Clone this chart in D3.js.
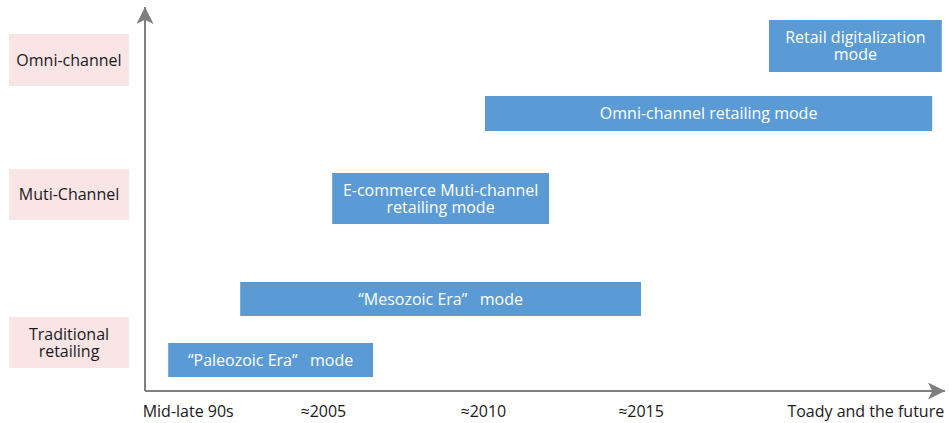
<!DOCTYPE html>
<html>
<head>
<meta charset="utf-8">
<script src="https://cdn.jsdelivr.net/npm/d3@7"></script>
<style>
  body { margin: 0; background: #fff; }
  svg text { font-family: "Open Sans", "Noto Sans", sans-serif; }
</style>
</head>
<body>
<svg id="chart" width="949" height="423"></svg>
<script>
// timeline ticks (position along the time axis, 0-100)
var tickLabels = ['Mid-late 90s', '\u22482005', '\u22482010', '\u22482015', 'Toady and the future'];
var tickValues = [5.4, 22.3, 42.3, 62, 90.1];

// stages of retailing (rows on the left)
var categories = ['Omni-channel', 'Muti-Channel', 'Traditional\nretailing'];
var categoryLow = [305, 171, 23];
var categoryHigh = [357, 222, 74];

// retail modes: start / end on the time axis, low / high on the stage axis
var modeNames = ['\u201cPaleozoic Era\u201d   mode', '\u201cMesozoic Era\u201d   mode',
  'E-commerce Muti-channel\nretailing mode', 'Omni-channel retailing mode',
  'Retail digitalization\nmode'];
var modeStart = [2.9, 11.9, 23.4, 42.5, 78];
var modeEnd = [28.5, 62, 50.5, 98.4, 99.6];
var modeLow = [14, 75, 167, 260, 319];
var modeHigh = [48, 109, 218, 295, 371];

var svg = d3.select('#chart');

var x = d3.scaleLinear().domain([0, 100]).range([145, 945]);
var y = d3.scaleLinear().domain([0, 384]).range([391, 7]);

var axisColor = '#7f7f7f',
  fontSize = '16px';

// category boxes
var cat = svg.append('g').selectAll('g')
  .data(categories)
  .join('g');

cat.append('rect')
  .attr('x', 9)
  .attr('width', 120)
  .attr('y', (d, i) => y(categoryHigh[i]))
  .attr('height', (d, i) => y(categoryLow[i]) - y(categoryHigh[i]))
  .style('fill', '#f9e4e6');

cat.each(function(d, i){
  var lines = d.split('\n'),
    cy = (y(categoryLow[i]) + y(categoryHigh[i])) / 2;
  d3.select(this).append('text')
    .attr('x', 69)
    .attr('y', cy - (lines.length - 1) * 8.5 + 5.5)
    .style('text-anchor', 'middle')
    .style('font-size', fontSize)
    .style('fill', '#1a1a1a')
    .selectAll('tspan')
    .data(lines)
    .join('tspan')
      .attr('x', 69)
      .attr('dy', (l, j) => j ? 17 : 0)
      .text(l => l);
});

// mode bars
var bars = svg.append('g').selectAll('g')
  .data(modeNames)
  .join('g');

bars.append('rect')
  .attr('x', (d, i) => x(modeStart[i]))
  .attr('width', (d, i) => x(modeEnd[i]) - x(modeStart[i]))
  .attr('y', (d, i) => y(modeHigh[i]))
  .attr('height', (d, i) => y(modeLow[i]) - y(modeHigh[i]))
  .style('fill', '#5b9bd5');

bars.each(function(d, i){
  var lines = d.split('\n'),
    cx = (x(modeStart[i]) + x(modeEnd[i])) / 2,
    cy = (y(modeLow[i]) + y(modeHigh[i])) / 2;
  d3.select(this).append('text')
    .attr('x', cx)
    .attr('y', cy - (lines.length - 1) * 8.5 + 5.5)
    .style('text-anchor', 'middle')
    .style('font-size', fontSize)
    .style('fill', '#fff')
    .style('white-space', 'pre')
    .selectAll('tspan')
    .data(lines)
    .join('tspan')
      .attr('x', cx)
      .attr('dy', (l, j) => j ? 17 : 0)
      .text(l => l);
});

// axes with arrows
svg.append('defs').append('marker')
  .attr('id', 'arrow')
  .attr('viewBox', '0 0 10 10')
  .attr('refX', 10)
  .attr('refY', 5)
  .attr('markerWidth', 17)
  .attr('markerHeight', 17)
  .attr('markerUnits', 'userSpaceOnUse')
  .attr('orient', 'auto')
  .append('path')
    .attr('d', 'M0,0 L10,5 L0,10 L2.5,5 Z')
    .style('fill', axisColor);

svg.append('path')
  .attr('d', `M ${x(0)} ${y(0)} L ${x(0)} ${y(384)}`)
  .style('stroke', axisColor)
  .style('stroke-width', 2)
  .style('fill', 'none')
  .attr('marker-end', 'url(#arrow)');

svg.append('path')
  .attr('d', `M ${x(0)} ${y(0)} L ${x(100)} ${y(0)}`)
  .style('stroke', axisColor)
  .style('stroke-width', 2)
  .style('fill', 'none')
  .attr('marker-end', 'url(#arrow)');

// tick labels under the time axis
svg.append('g').selectAll('text')
  .data(tickLabels)
  .join('text')
    .attr('x', (d, i) => x(tickValues[i]))
    .attr('y', 417)
    .style('text-anchor', 'middle')
    .style('font-size', fontSize)
    .style('fill', '#1a1a1a')
    .text(d => d);
</script>
</body>
</html>
